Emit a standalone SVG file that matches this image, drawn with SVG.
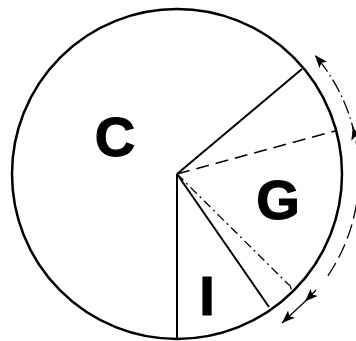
<svg xmlns="http://www.w3.org/2000/svg" width="356" height="341" viewBox="0 0 356 341">
<style>
.lbl{font-family:"Liberation Sans",Arial,sans-serif;font-weight:bold;font-size:56px;fill:#000;stroke:#000;stroke-width:1.2;text-anchor:middle}
.solid{stroke:#000;stroke-width:2;fill:none}
.dash{stroke:#000;stroke-width:1.5;fill:none;stroke-dasharray:13 7}
.dashdot{stroke:#000;stroke-width:1.3;fill:none;stroke-dasharray:9 4 2 4}
.arc{stroke:#000;stroke-width:1.3;fill:none}
</style>
<defs>
<marker id="ah" viewBox="0 0 13 10" refX="13" refY="5" markerWidth="13" markerHeight="10" markerUnits="userSpaceOnUse" orient="auto">
<path d="M0,0 L13,5 L0,10 L3,5 Z" fill="#000"/>
</marker>
</defs>
<rect width="356" height="341" fill="#fff"/>
<g id="pie">
<circle cx="177" cy="174" r="165" fill="#fff" stroke="#000" stroke-width="2.5"/>
</g>
<g id="connectors">
<line class="solid" x1="177" y1="174" x2="302" y2="69"/>
<line class="solid" x1="177" y1="174" x2="177" y2="339"/>
<line class="solid" x1="177" y1="174" x2="269" y2="307"/>
<line class="dash" x1="177" y1="174" x2="335" y2="131"/>
<line class="dashdot" x1="177" y1="174" x2="289" y2="285"/>
<line stroke="#000" stroke-width="1.2" x1="289.5" y1="284.5" x2="291.5" y2="289.5"/>
<path class="arc" stroke-dasharray="14 4 1.5 4" d="M355,136.2 A182,182 0 0 0 314.8,55.1" marker-end="url(#ah)"/>
<path class="arc" stroke-dasharray="15 6" d="M327.9,275.8 A182,182 0 0 0 352.8,126.9" marker-end="url(#ah)"/>
<polyline class="arc" points="316,290 305,301.5 282,323" marker-mid="url(#ah)" marker-end="url(#ah)"/>
</g>
<g id="C"><text class="lbl" x="115" y="156">C</text></g>
<g id="G"><text class="lbl" x="278" y="219">G</text></g>
<g id="I"><text class="lbl" x="207" y="315">I</text></g>
</svg>
